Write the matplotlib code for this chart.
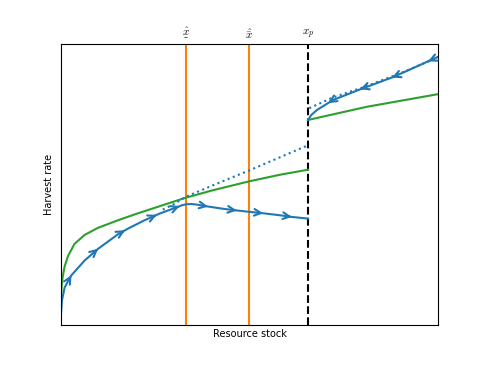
import matplotlib
matplotlib.use("Agg")
import matplotlib.pyplot as plt
from matplotlib.mathtext import MathTextParser
import numpy as np

plt.rcParams['mathtext.fontset'] = 'cm'
plt.rcParams['font.family'] = ['DejaVu Sans']

# thresholds on the stock axis
x_low, x_high, x_p = 3.32, 4.99, 6.55
top_labels = [r'$\hat{\underset{\_}{x}}$', r'$\hat{\bar{x}}$', r'$x_p$']

# growth / harvest curve (green), left and right of x_p
green_lx = [0.003, 0.02, 0.05, 0.1, 0.19, 0.36, 0.63, 0.98, 1.51, 2.0, 2.5,
            3.3, 4.0, 5.0, 5.8, 6.55]
green_ly = [0.9, 1.38, 1.72, 2.08, 2.45, 2.88, 3.2, 3.45, 3.72, 3.95, 4.17,
            4.52, 4.78, 5.11, 5.34, 5.52]
green_rx = [6.55, 8.11, 10.0]
green_ry = [7.29, 7.76, 8.21]

# optimal path below x_p
traj_lx = [0.003, 0.027, 0.1, 0.27, 0.63, 0.98, 1.51, 1.8, 2.2, 2.6, 2.9, 3.1,
           3.22, 3.32, 3.45, 3.6, 3.9, 4.3, 4.66, 5.0, 5.36, 5.8, 6.12, 6.55]
traj_ly = [0.38, 0.86, 1.33, 1.75, 2.29, 2.7, 3.22, 3.44, 3.71, 3.95, 4.1, 4.2,
           4.26, 4.29, 4.3, 4.28, 4.21, 4.13, 4.07, 4.02, 3.97, 3.9, 3.84, 3.78]
arrows_l = [0.28, 0.99, 1.70, 2.54, 3.15, 3.9, 4.66, 5.36, 6.12]

# optimal path above x_p
traj_rx = [6.55, 6.63, 6.78, 7.21, 7.93, 8.81, 10.0]
traj_ry = [7.29, 7.46, 7.64, 8.0, 8.38, 8.82, 9.54]
arrows_r = [9.73, 8.77, 7.93, 7.08]

# dotted reference paths
dot_lx = [2.7, 3.0, 3.3, 4.0, 5.0, 6.55]
dot_ly = [4.1, 4.3, 4.55, 4.95, 5.5, 6.39]
dot_rx = [6.58, 7.21, 8.11, 8.99, 10.0]
dot_ry = [7.71, 8.09, 8.5, 8.95, 9.52]

blue, orange, green = '#1f77b4', '#ff7f0e', '#2ca02c'

# fall back if this mathtext build can't parse the underscore-under-x label
try:
    MathTextParser('agg').parse(top_labels[0], dpi=100)
except Exception:
    top_labels[0] = r'$\hat{x}$'

fig, ax = plt.subplots(figsize=(4.87, 3.65), dpi=100)

ax.axvline(x_low, color=orange, lw=1.5)
ax.axvline(x_high, color=orange, lw=1.5)
ax.axvline(x_p, color='k', lw=1.5, ls='--')

ax.plot(green_lx, green_ly, color=green, lw=1.5)
ax.plot(green_rx, green_ry, color=green, lw=1.5)

ax.plot(dot_lx, dot_ly, color=blue, lw=1.5, ls=':')
ax.plot(dot_rx, dot_ry, color=blue, lw=1.5, ls=':')

ax.plot(traj_lx, traj_ly, color=blue, lw=1.5)
ax.plot(traj_rx, traj_ry, color=blue, lw=1.5)


def add_arrows(xs, ys, where, direction):
    for xa in where:
        x0 = xa - direction * 0.08
        y0 = np.interp(x0, xs, ys)
        y1 = np.interp(xa, xs, ys)
        ax.annotate('', xy=(xa, y1), xytext=(x0, y0),
                    arrowprops=dict(arrowstyle='->', color=blue, lw=1.5,
                                    mutation_scale=12, shrinkA=0, shrinkB=0))


add_arrows(traj_lx, traj_ly, arrows_l, 1)
add_arrows(traj_rx, traj_ry, arrows_r, -1)

ax.set_xlim(0, 10)
ax.set_ylim(0, 10)
ax.xaxis.tick_top()
ax.set_xticks([x_low, x_high, x_p])
ax.set_xticklabels(top_labels, fontsize=8)
ax.tick_params(axis='x', length=0, pad=2)
ax.set_yticks([])
ax.set_xlabel('Resource stock', fontsize=7, labelpad=3)
ax.set_ylabel('Harvest rate', fontsize=7, labelpad=5)

fig.savefig('out.png', dpi=100)
